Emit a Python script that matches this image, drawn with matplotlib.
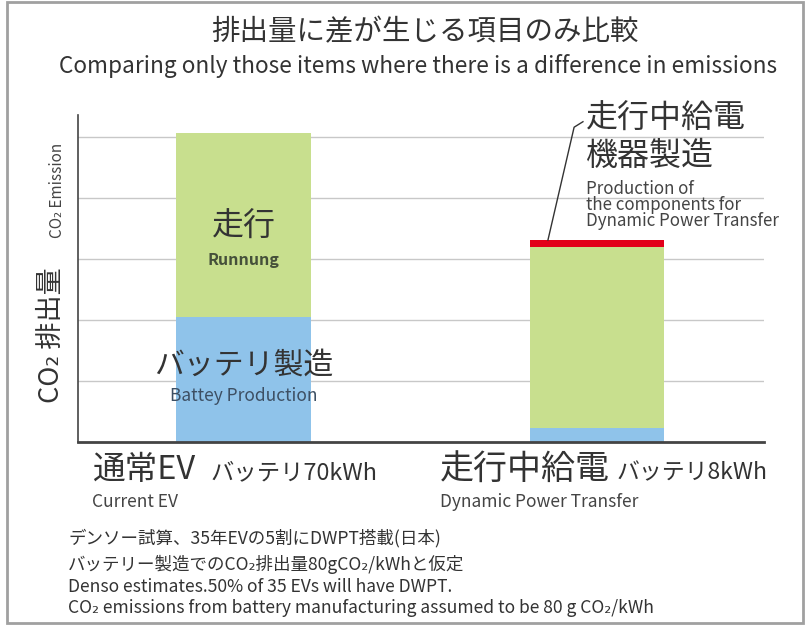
import matplotlib
matplotlib.use('Agg')
import matplotlib.pyplot as plt
from matplotlib.patches import Rectangle

plt.rcParams['font.family'] = ['Noto Sans CJK JP', 'DejaVu Sans']

W, H = 807, 628

# data: CO2 emission by item (grid units)
cases = ['通常EV', '走行中給電']
battery = [2.05, 0.23]
running = [3.02, 2.97]
dwpt_parts = [0.0, 0.11]

c_green = '#c8df8e'
c_blue = '#8fc3ea'
c_red = '#e2001a'
c_text = '#333333'


def fx(x):
    return x / W


def fy(y):
    return 1 - y / H


fig = plt.figure(figsize=(W / 100, H / 100), dpi=100)
ax = fig.add_axes([fx(78), fy(442), fx(764) - fx(78), fy(115) - fy(442)])

pos = [0, 1]
bw = 0.38
ax.bar(pos, battery, width=bw, color=c_blue, zorder=2)
ax.bar(pos, running, width=bw, bottom=battery, color=c_green, zorder=2)
tops = [b + r for b, r in zip(battery, running)]
ax.bar(pos, dwpt_parts, width=bw, bottom=tops, color=c_red, zorder=2)

ax.set_xlim(-0.468, 1.472)
ax.set_ylim(0, 5.36)
ax.set_yticks([1, 2, 3, 4, 5])
ax.set_xticks([])
ax.yaxis.grid(True, color='#c8c8c8', lw=1, zorder=0)
ax.tick_params(length=0, labelleft=False)
for s in ['top', 'right']:
    ax.spines[s].set_visible(False)
ax.spines['left'].set_color('#444444')
ax.spines['left'].set_linewidth(1.2)
ax.spines['bottom'].set_color('#444444')
ax.spines['bottom'].set_linewidth(2)

# labels inside the first bar
ax.text(pos[0], 3.52, '走行', ha='center', va='center', fontsize=23, color=c_text, zorder=3)
ax.text(pos[0], 2.98, 'Runnung', ha='center', va='center', fontsize=11.5,
        fontweight='bold', color='#45503a', zorder=3)
ax.text(pos[0], 1.26, 'バッテリ製造', ha='center', va='center', fontsize=21.5, color=c_text, zorder=3)
ax.text(pos[0], 0.75, 'Battey Production', ha='center', va='center', fontsize=12.5,
        color='#3d4f63', zorder=3)

# leader line to the thin red segment
top2 = tops[1] + dwpt_parts[1]
ax.plot([pos[1] - 0.139, pos[1] - 0.065, pos[1] - 0.04],
        [top2, 5.16, 5.25], color='#333333', lw=1, clip_on=False, zorder=3)

fig.text(fx(586), fy(119), '走行中給電', ha='left', va='center', fontsize=23, color=c_text)
fig.text(fx(586), fy(156), '機器製造', ha='left', va='center', fontsize=23, color=c_text)
fig.text(fx(586), fy(205), 'Production of\nthe components for\nDynamic Power Transfer',
         ha='left', va='center', fontsize=12.2, linespacing=0.86, color='#444444')

# y axis labels
fig.text(fx(52), fy(335), 'CO₂ 排出量', rotation=90, ha='center', va='center',
         fontsize=19.5, color=c_text)
fig.text(fx(57), fy(190), 'CO₂ Emission', rotation=90, ha='center', va='center',
         fontsize=11, color='#444444')

# title
fig.text(fx(425), fy(32), '排出量に差が生じる項目のみ比較', ha='center', va='center',
         fontsize=20.5, color=c_text)
fig.text(fx(418), fy(66), 'Comparing only those items where there is a difference in emissions',
         ha='center', va='center', fontsize=16.3, color=c_text)

# category labels
fig.text(fx(92), fy(470), cases[0], ha='left', va='center', fontsize=23.5, color=c_text)
fig.text(fx(210), fy(473), 'バッテリ70kWh', ha='left', va='center', fontsize=16.8, color=c_text)
fig.text(fx(92), fy(502), 'Current EV', ha='left', va='center', fontsize=12.5, color='#444444')
fig.text(fx(440), fy(470), cases[1], ha='left', va='center', fontsize=24.5, color=c_text)
fig.text(fx(617), fy(473), 'バッテリ8kWh', ha='left', va='center', fontsize=16.5, color=c_text)
fig.text(fx(440), fy(502), 'Dynamic Power Transfer', ha='left', va='center', fontsize=12.5,
         color='#444444')

# notes
notes = ['デンソー試算、35年EVの5割にDWPT搭載(日本)',
         'バッテリー製造でのCO₂排出量80gCO₂/kWhと仮定',
         'Denso estimates.50% of 35 EVs will have DWPT.',
         'CO₂ emissions from battery manufacturing assumed to be 80 g CO₂/kWh']
note_y = [538, 564, 587, 608]
for t, y in zip(notes, note_y):
    fig.text(fx(68), fy(y), t, ha='left', va='center', fontsize=12.6, color=c_text)

# outer frame
fig.patches.append(Rectangle((fx(7), fy(623)), fx(803) - fx(7), fy(2) - fy(623),
                             transform=fig.transFigure, fill=False,
                             edgecolor='#a0a0a0', lw=2))

fig.savefig('out.png', dpi=100)
